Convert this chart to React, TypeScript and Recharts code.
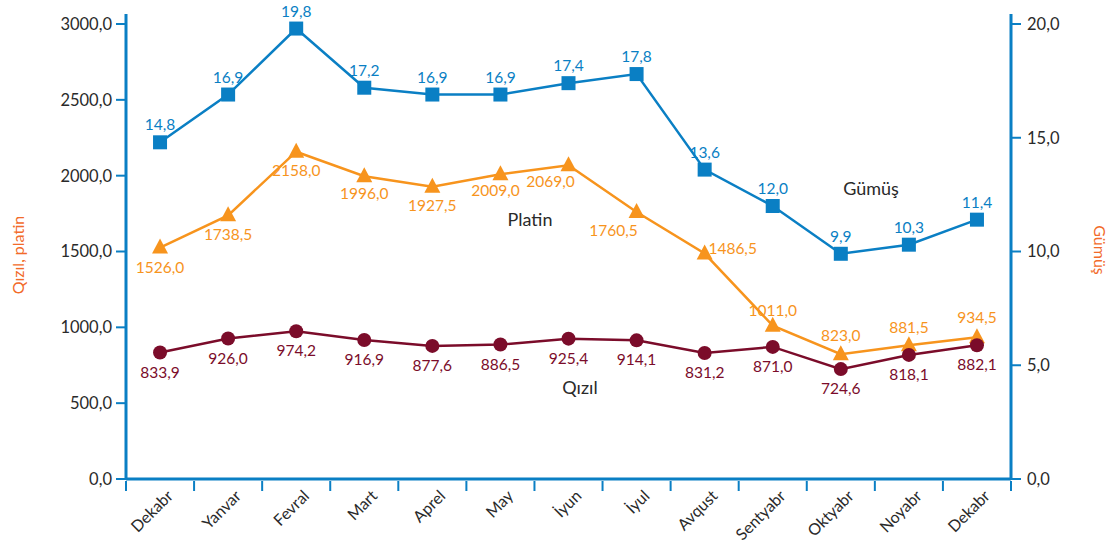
import React from 'react';
import { LineChart, Line, XAxis, YAxis, LabelList } from 'recharts';

const months = ['Dekabr', 'Yanvar', 'Fevral', 'Mart', 'Aprel', 'May', 'İyun', 'İyul', 'Avqust', 'Sentyabr', 'Oktyabr', 'Noyabr', 'Dekabr'];
const gumus = [14.8, 16.9, 19.8, 17.2, 16.9, 16.9, 17.4, 17.8, 13.6, 12.0, 9.9, 10.3, 11.4];
const platin = [1526.0, 1738.5, 2158.0, 1996.0, 1927.5, 2009.0, 2069.0, 1760.5, 1486.5, 1011.0, 823.0, 881.5, 934.5];
const qizil = [833.9, 926.0, 974.2, 916.9, 877.6, 886.5, 925.4, 914.1, 831.2, 871.0, 724.6, 818.1, 882.1];
const leftTicks = [0, 500, 1000, 1500, 2000, 2500, 3000];
const rightTicks = [0, 5, 10, 15, 20];

const data = months.map((m, i) => ({ key: i, month: m, gumus: gumus[i], platin: platin[i], qizil: qizil[i] }));

const BLUE = '#0a7fc4';
const ORANGE = '#f7941d';
const RED = '#7b0c2a';
const TEXT = '#2a2a2a';
const FONT = 'Lato, "Open Sans", sans-serif';

const fmt = (v: number) => v.toFixed(1).replace('.', ',');

// label offsets for the platin series (below / above / right)
const platinOffsets: [number, number][] = [
  [0, 19], [0, 19], [0, 18], [0, 17], [0, 18], [-5, 16], [-18, 16], [-23, 18], [28, -6], [0, -16], [0, -19], [0, -18], [0, -20],
];

const makeLabel = (color: string, offsets: (i: number) => [number, number]) => (props: any) => {
  const { x, y, value, index } = props;
  const [dx, dy] = offsets(index);
  return (
    <text x={x + dx} y={y + dy} fill={color} fontSize={15.5} fontFamily={FONT} textAnchor="middle" dominantBaseline="central">
      {fmt(Number(value))}
    </text>
  );
};

const SquareDot = (props: any) => {
  const { cx, cy } = props;
  return <rect x={cx - 7} y={cy - 7} width={14} height={14} fill={BLUE} />;
};
const TriangleDot = (props: any) => {
  const { cx, cy } = props;
  return <polygon points={`${cx},${cy - 9} ${cx + 8},${cy + 6} ${cx - 8},${cy + 6}`} fill={ORANGE} />;
};
const CircleDot = (props: any) => {
  const { cx, cy } = props;
  return <circle cx={cx} cy={cy} r={7} fill={RED} />;
};

const XTick = (props: any) => {
  const { x, y, payload, index } = props;
  const half = payload && payload.offset ? payload.offset : 34;
  const last = index === months.length - 1;
  const tx = x + 14;
  const ty = y + 16;
  return (
    <g>
      <line x1={x - half} y1={y} x2={x - half} y2={y + 10} stroke={BLUE} strokeWidth={2} />
      {last && <line x1={x + half} y1={y} x2={x + half} y2={y + 10} stroke={BLUE} strokeWidth={2} />}
      <text x={tx} y={ty} transform={`rotate(-45, ${tx}, ${ty})`} textAnchor="end" fill={TEXT} fontSize={16} fontFamily={FONT}>
        {months[payload.value]}
      </text>
    </g>
  );
};

const seriesName = (text: string, left: number, top: number) => (
  <div style={{ position: 'absolute', left, top, transform: 'translate(-50%, -50%)', fontFamily: FONT, fontSize: 18, color: TEXT }}>
    {text}
  </div>
);

export default function App() {
  return (
    <div style={{ position: 'absolute', left: 0, top: 0, width: 1111, height: 546, background: '#fff' }}>
      <LineChart width={1111} height={546} data={data} margin={{ top: 14, right: 0, bottom: 0, left: 0 }}>
        <XAxis
          dataKey="key"
          scale="band"
          height={67}
          tickSize={0}
          tickLine={false}
          axisLine={{ stroke: BLUE, strokeWidth: 3 }}
          tick={<XTick />}
          interval={0}
        />
        <YAxis
          yAxisId="left"
          width={126}
          domain={[0, 3066]}
          ticks={leftTicks}
          tickFormatter={fmt}
          tickSize={10}
          tickMargin={4}
          tickLine={{ stroke: BLUE, strokeWidth: 2 }}
          axisLine={{ stroke: BLUE, strokeWidth: 3 }}
          tick={{ fill: TEXT, fontSize: 16.5, fontFamily: FONT }}
        />
        <YAxis
          yAxisId="right"
          orientation="right"
          width={100}
          domain={[0, 20.44]}
          ticks={rightTicks}
          tickFormatter={fmt}
          tickSize={10}
          tickMargin={6}
          tickLine={{ stroke: BLUE, strokeWidth: 2 }}
          axisLine={{ stroke: BLUE, strokeWidth: 3 }}
          tick={{ fill: TEXT, fontSize: 16.5, fontFamily: FONT }}
        />
        <Line yAxisId="right" dataKey="gumus" stroke={BLUE} strokeWidth={2.5} dot={<SquareDot />} isAnimationActive={false}>
          <LabelList dataKey="gumus" content={makeLabel(BLUE, () => [0, -18])} />
        </Line>
        <Line yAxisId="left" dataKey="platin" stroke={ORANGE} strokeWidth={2.5} dot={<TriangleDot />} isAnimationActive={false}>
          <LabelList dataKey="platin" content={makeLabel(ORANGE, (i) => platinOffsets[i])} />
        </Line>
        <Line yAxisId="left" dataKey="qizil" stroke={RED} strokeWidth={2.5} dot={<CircleDot />} isAnimationActive={false}>
          <LabelList dataKey="qizil" content={makeLabel(RED, () => [0, 19])} />
        </Line>
      </LineChart>
      {seriesName('Platin', 530, 219)}
      {seriesName('Gümüş', 871, 188)}
      {seriesName('Qızıl', 580, 387)}
      <div style={{ position: 'absolute', left: 17, top: 255, transform: 'translate(-50%, -50%) rotate(-90deg)', whiteSpace: 'nowrap', fontFamily: FONT, fontSize: 16, color: '#f26b2a' }}>
        Qızıl, platin
      </div>
      <div style={{ position: 'absolute', left: 1100, top: 250, transform: 'translate(-50%, -50%) rotate(90deg)', whiteSpace: 'nowrap', fontFamily: FONT, fontSize: 16, color: '#f26b2a' }}>
        Gümüş
      </div>
    </div>
  );
}
